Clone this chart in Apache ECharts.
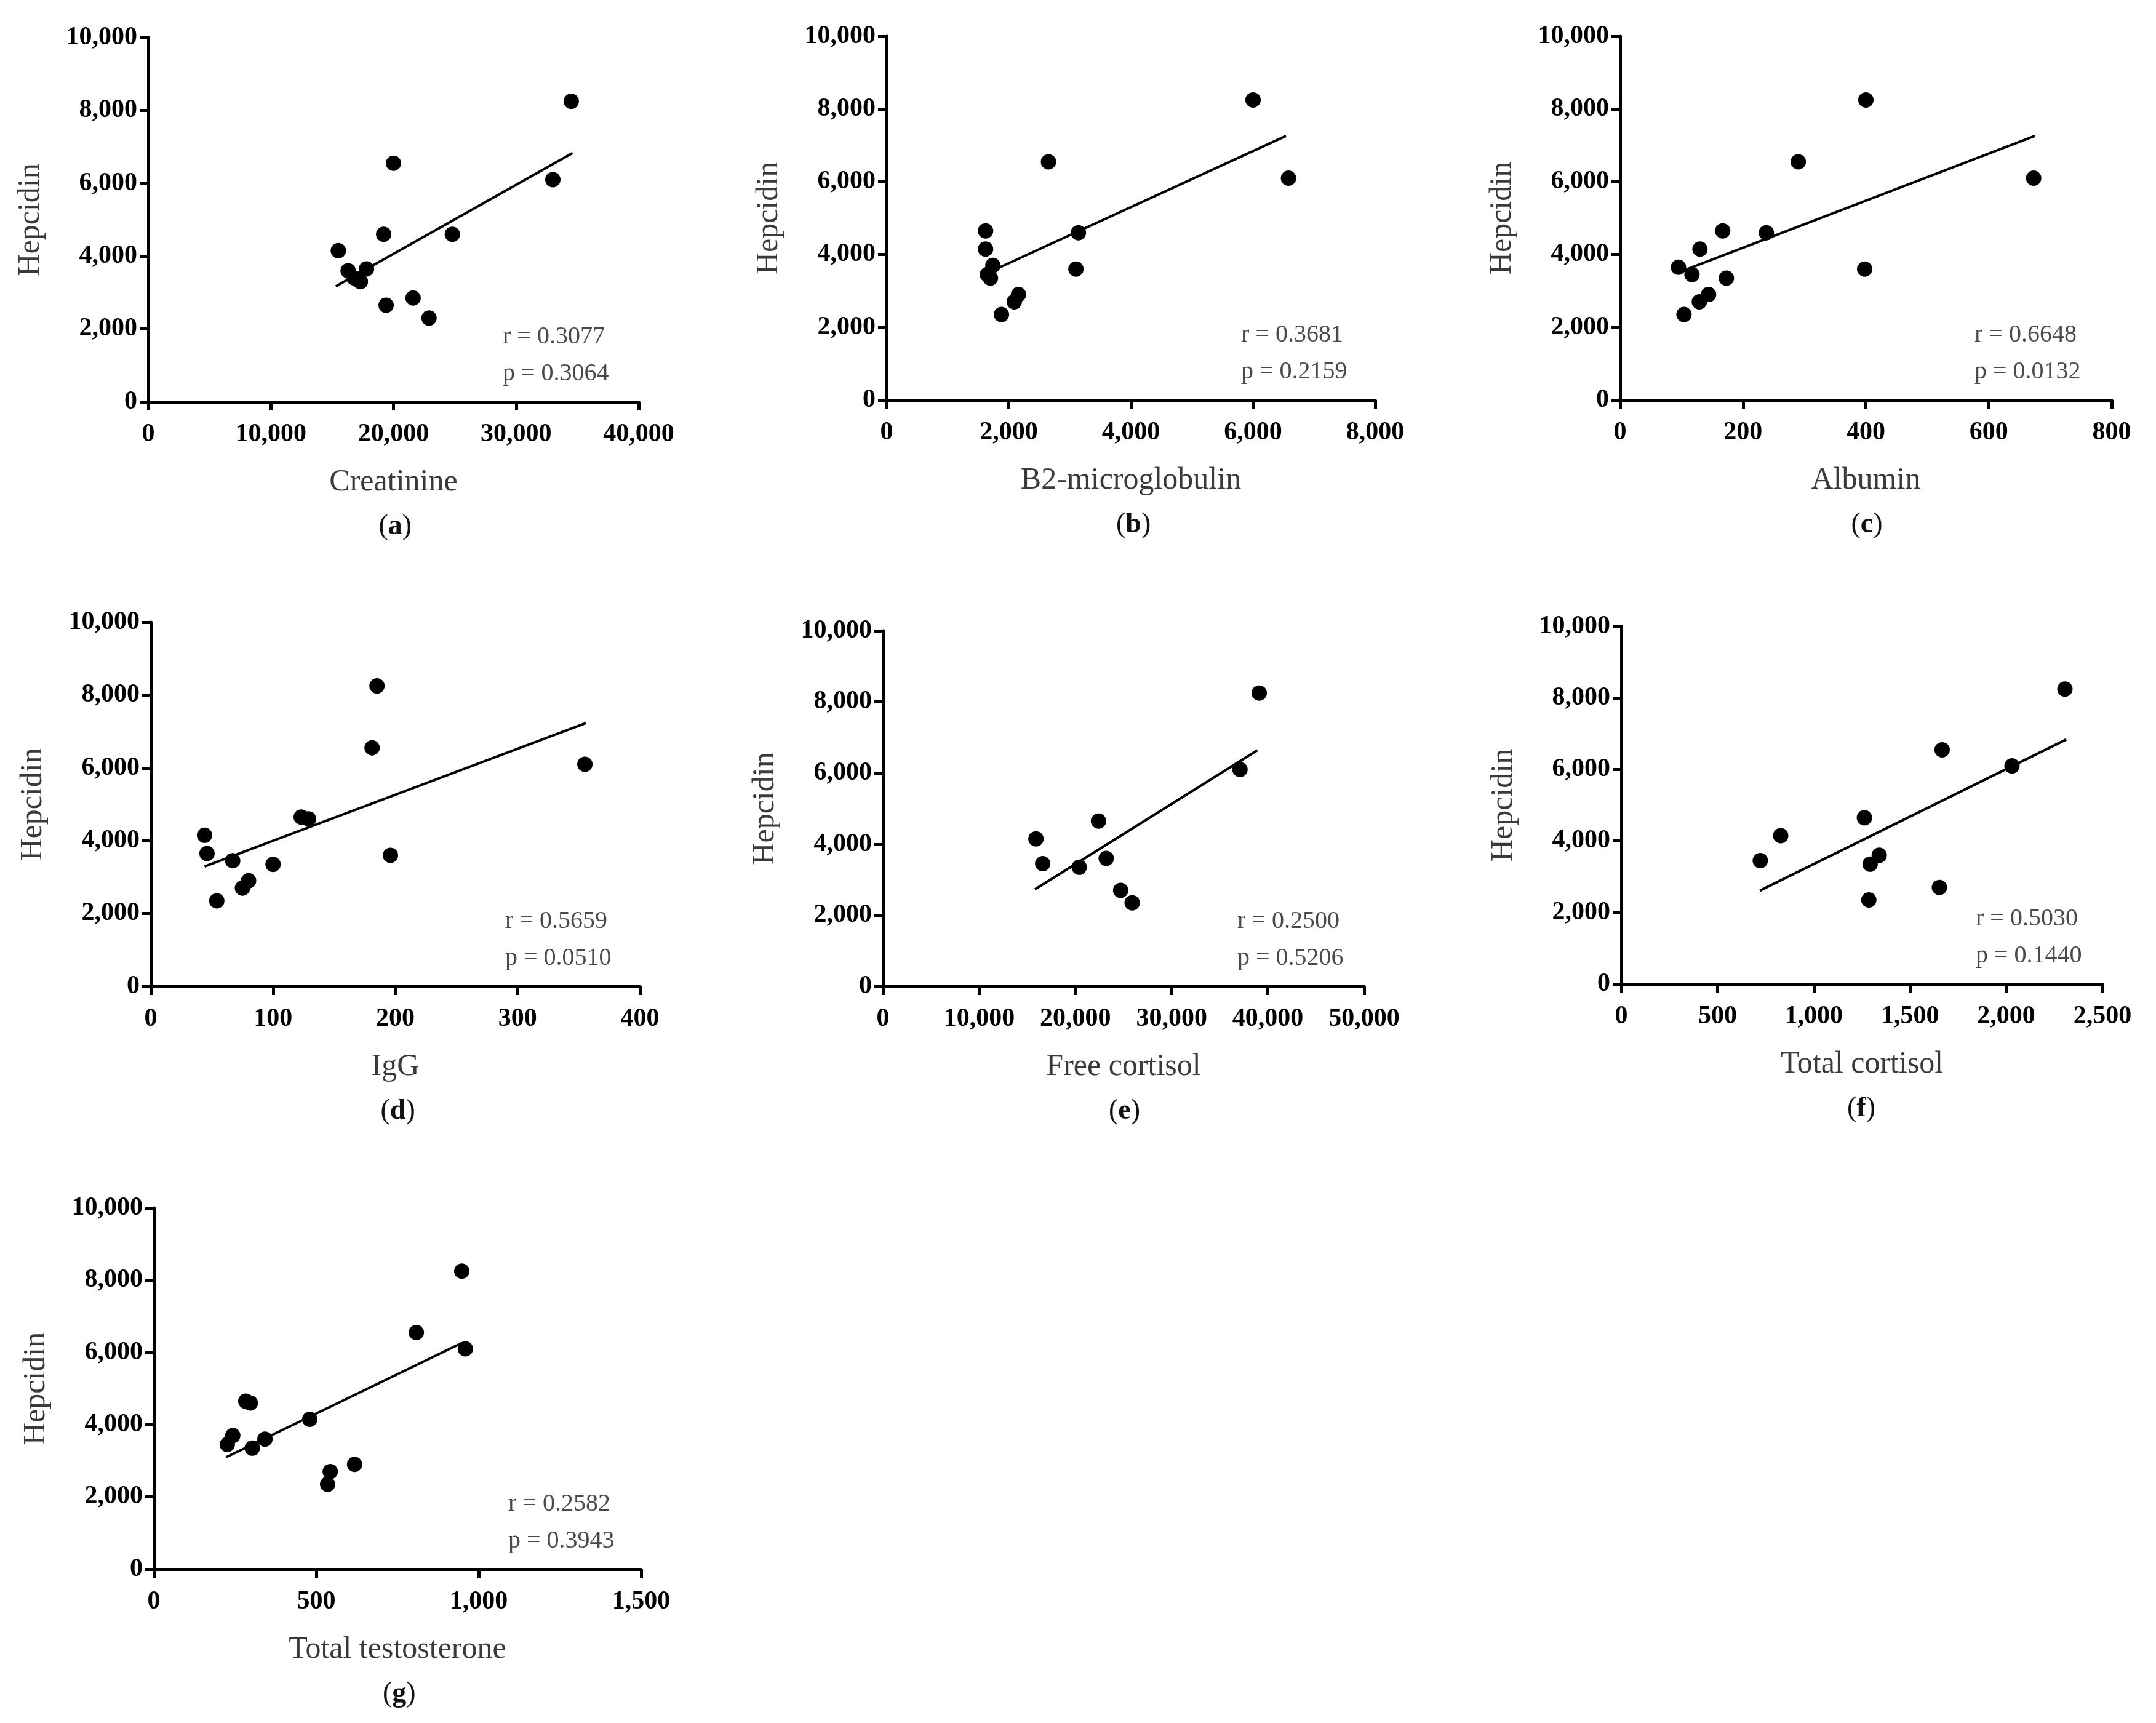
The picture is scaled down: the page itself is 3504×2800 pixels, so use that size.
<!DOCTYPE html>
<html>
<head>
<meta charset="utf-8">
<script src="https://cdn.jsdelivr.net/npm/echarts@6/dist/echarts.min.js"></script>
<style>
  html, body { margin: 0; padding: 0; background: #fff; }
  #chart { width: 3504px; height: 2800px; }
</style>
</head>
<body>
<div id="chart"></div>
<script>
// values
const yTicks = [0, 2000, 4000, 6000, 8000, 10000];

const creatinineX = [34500, 20000, 33000, 19200, 24800, 15500, 16300, 17800, 16800, 17300, 19400, 21600, 22900];
const creatinineY = [8250, 6550, 6100, 4600, 4600, 4150, 3600, 3650, 3400, 3300, 2650, 2850, 2300];
const creatinineFit = [[15300, 3170], [34600, 6830]];

const b2mX = [6000, 2650, 6580, 1620, 3140, 1620, 1740, 3100, 1650, 1700, 2160, 2090, 1880];
const b2mY = [8250, 6550, 6100, 4650, 4600, 4150, 3700, 3600, 3450, 3350, 2900, 2700, 2350];
const b2mFit = [[1790, 3600], [6540, 7260]];

const albuminX = [400, 290, 673, 167, 238, 130, 95, 398, 117, 173, 144, 129, 104];
const albuminY = [8250, 6550, 6100, 4650, 4600, 4150, 3650, 3600, 3450, 3350, 2900, 2700, 2350];
const albuminFit = [[100, 3540], [675, 7260]];

const iggX = [185, 181, 355, 123, 129, 44, 46, 196, 67, 100, 80, 75, 54];
const iggY = [8250, 6550, 6100, 4650, 4600, 4150, 3650, 3600, 3450, 3350, 2900, 2700, 2350];
const iggFit = [[44, 3290], [356, 7230]];

const freeCortisolX = [39100, 37100, 22400, 15900, 23200, 16600, 20400, 24700, 25900];
const freeCortisolY = [8250, 6100, 4650, 4150, 3600, 3450, 3350, 2700, 2350];
const freeCortisolFit = [[15800, 2730], [38900, 6640]];

const totalCortisolX = [2305, 1667, 2030, 1263, 828, 1340, 722, 1293, 1653, 1286];
const totalCortisolY = [8250, 6550, 6100, 4650, 4150, 3600, 3450, 3350, 2700, 2350];
const totalCortisolFit = [[720, 2610], [2312, 6840]];

const testosteroneX = [948, 808, 959, 283, 297, 480, 243, 342, 226, 303, 618, 543, 535];
const testosteroneY = [8250, 6550, 6100, 4650, 4600, 4150, 3700, 3600, 3450, 3350, 2900, 2700, 2350];
const testosteroneFit = [[223, 3100], [948, 6260]];

const xNames = ['Creatinine', 'B2-microglobulin', 'Albumin', 'IgG', 'Free cortisol', 'Total cortisol', 'Total testosterone'];
const xMax = [40000, 8000, 800, 400, 50000, 2500, 1500];
const xStep = [10000, 2000, 200, 100, 10000, 500, 500];
const rValues = ['0.3077', '0.3681', '0.6648', '0.5659', '0.2500', '0.5030', '0.2582'];
const pValues = ['0.3064', '0.2159', '0.0132', '0.0510', '0.5206', '0.1440', '0.3943'];
const panelLetters = ['a', 'b', 'c', 'd', 'e', 'f', 'g'];

const panelX = [creatinineX, b2mX, albuminX, iggX, freeCortisolX, totalCortisolX, testosteroneX];
const panelY = [creatinineY, b2mY, albuminY, iggY, freeCortisolY, totalCortisolY, testosteroneY];
const panelFit = [creatinineFit, b2mFit, albuminFit, iggFit, freeCortisolFit, totalCortisolFit, testosteroneFit];

// plot boxes [left, top, width, height]
const boxes = [
  [241, 61, 797, 592],
  [1441, 59, 794, 591],
  [2633, 59, 799, 591],
  [245, 1011, 795, 592],
  [1435, 1025, 782, 578],
  [2635, 1018, 782, 581],
  [250, 1963, 792, 587]
];

const serif = '"Liberation Serif", "DejaVu Serif", serif';
const fmt = v => v.toLocaleString('en-US');

const axisCommon = {
  axisLine: { show: true, onZero: false, lineStyle: { color: '#000', width: 5 } },
  axisTick: { show: true, inside: false, length: 14, lineStyle: { color: '#000', width: 5 } },
  splitLine: { show: false },
  axisLabel: { color: '#000', fontFamily: serif, fontWeight: 'bold', fontSize: 42, formatter: fmt },
  nameTextStyle: { color: '#3a3a3a', fontFamily: serif, fontSize: 50 }
};

const grids = [], xAxes = [], yAxes = [], series = [], graphics = [];

boxes.forEach((b, i) => {
  grids.push({ left: b[0], top: b[1], width: b[2], height: b[3], outerBoundsMode: 'none', containLabel: false });
  xAxes.push(Object.assign({}, axisCommon, {
    type: 'value', gridIndex: i, min: 0, max: xMax[i], interval: xStep[i],
    name: xNames[i], nameLocation: 'middle', nameGap: 106,
    axisLabel: Object.assign({}, axisCommon.axisLabel, { margin: 32 })
  }));
  yAxes.push(Object.assign({}, axisCommon, {
    type: 'value', gridIndex: i, min: yTicks[0], max: yTicks[yTicks.length - 1], interval: yTicks[1] - yTicks[0],
    name: 'Hepcidin', nameLocation: 'middle', nameGap: 166,
    axisLabel: Object.assign({}, axisCommon.axisLabel, { margin: 18 })
  }));
  series.push({
    type: 'scatter', xAxisIndex: i, yAxisIndex: i,
    data: panelX[i].map((x, k) => [x, panelY[i][k]]),
    symbol: 'circle', symbolSize: 25,
    itemStyle: { color: '#000', opacity: 1 }, z: 3
  });
  series.push({
    type: 'line', xAxisIndex: i, yAxisIndex: i,
    data: panelFit[i], showSymbol: false, symbol: 'none',
    lineStyle: { color: '#000', width: 4 }, z: 2
  });
  const bottom = b[1] + b[3];
  graphics.push({
    type: 'text', left: b[0] + 576, top: bottom - 126,
    style: { text: 'r = ' + rValues[i], fill: '#4a4a4a', font: '40px ' + serif }
  });
  graphics.push({
    type: 'text', left: b[0] + 576, top: bottom - 66,
    style: { text: 'p = ' + pValues[i], fill: '#4a4a4a', font: '40px ' + serif }
  });
  graphics.push({
    type: 'text', left: b[0] + b[2] / 2 - 24, top: bottom + 180,
    style: {
      text: '(' + '{b|' + panelLetters[i] + '})',
      fill: '#111', font: '46px ' + serif,
      rich: { b: { fontWeight: 'bold', fontSize: 46, fontFamily: serif, fill: '#111' } }
    }
  });
});

const chart = echarts.init(document.getElementById('chart'), null, { renderer: 'canvas' });
chart.setOption({
  backgroundColor: '#fff',
  animation: false,
  grid: grids,
  xAxis: xAxes,
  yAxis: yAxes,
  series: series,
  graphic: graphics
});
</script>
</body>
</html>
